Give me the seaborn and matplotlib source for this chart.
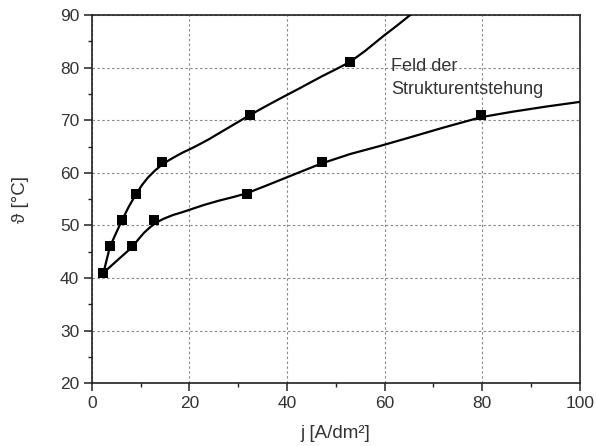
import matplotlib
matplotlib.use("Agg")
import matplotlib.pyplot as plt
import seaborn as sns
from matplotlib.ticker import MultipleLocator

# measured points
upper_x = [2.4, 3.7, 6.2, 9.1, 14.3, 32.4, 52.9]
upper_y = [41, 46, 51, 56, 62, 71, 81]
lower_x = [2.4, 8.3, 12.8, 31.7, 47.1, 79.8]
lower_y = [41, 46, 51, 56, 62, 71]

# smooth curves
upper_curve_x = [2.4, 3.7, 5.0, 6.2, 7.6, 9.1, 10.3, 11.5, 12.9, 14.3, 15.8, 17.3, 18.7, 20.1,
                 22.0, 24.0, 26.0, 28.0, 30.2, 32.4, 35.5, 38.5, 42.6, 47.0, 50.0,
                 52.9, 56.0, 59.7, 62.5, 65.2]
upper_curve_y = [41.0, 45.9, 48.6, 51.0, 53.6, 56.0, 57.7, 59.1, 60.4, 61.5, 62.4, 63.2, 63.9, 64.5,
                 65.4, 66.4, 67.5, 68.6, 69.8, 71.0, 72.6, 74.1, 76.1, 78.3, 79.7,
                 81.1, 83.2, 86.0, 88.0, 90.0]
lower_curve_x = [2.4, 5.4, 8.3, 9.5, 10.7, 12.0, 13.3, 14.8, 16.7, 18.5, 20.1, 23.0, 26.0,
                 29.0, 31.7, 35.0, 38.5, 42.5, 47.1, 53.0, 59.0, 65.0, 72.0, 79.8, 86.0,
                 93.0, 100.0]
lower_curve_y = [41.0, 43.5, 45.9, 47.3, 48.6, 49.7, 50.6, 51.3, 52.0, 52.5, 53.0, 53.9, 54.7,
                 55.4, 56.1, 57.3, 58.6, 60.1, 61.8, 63.6, 65.1, 66.7, 68.6, 70.6, 71.6,
                 72.6, 73.5]

x_label = "j [A/dm²]"
y_label = "ϑ [°C]"
note = "Feld der\nStrukturentstehung"

sns.set_style("ticks")
plt.rcParams["font.family"] = ["Liberation Sans", "DejaVu Sans"]

fig = plt.figure(figsize=(5.96, 4.46), dpi=100)
ax = fig.add_axes([0.154, 0.141, 0.819, 0.825])

sns.lineplot(x=upper_curve_x, y=upper_curve_y, ax=ax, color="black", lw=1.6, sort=False,
             estimator=None, zorder=3)
sns.lineplot(x=lower_curve_x, y=lower_curve_y, ax=ax, color="black", lw=1.6, sort=False,
             estimator=None, zorder=3)
sns.scatterplot(x=upper_x, y=upper_y, ax=ax, marker="s", s=62, color="black",
                edgecolor="black", linewidth=0, zorder=4)
sns.scatterplot(x=lower_x, y=lower_y, ax=ax, marker="s", s=62, color="black",
                edgecolor="black", linewidth=0, zorder=4)

ax.set_xlim(0, 100)
ax.set_ylim(20, 90)
ax.xaxis.set_major_locator(MultipleLocator(20))
ax.xaxis.set_minor_locator(MultipleLocator(10))
ax.yaxis.set_major_locator(MultipleLocator(10))
ax.yaxis.set_minor_locator(MultipleLocator(5))

ax.grid(True, which="major", color="#888888", linestyle=(0, (2.2, 2.2)), linewidth=0.8)
ax.set_axisbelow(True)

for sp in ax.spines.values():
    sp.set_visible(True)
    sp.set_color("#222222")
    sp.set_linewidth(1.2)

ax.tick_params(which="major", direction="out", length=6, width=1.1, color="#222222",
               labelsize=12.5, labelcolor="#333333", pad=3,
               top=False, right=False)
ax.tick_params(which="minor", direction="out", length=3, width=1.0, color="#222222",
               top=False, right=False)

ax.set_xlabel(x_label, fontsize=13.5, color="#333333", labelpad=10)
ax.set_ylabel(y_label, fontsize=13.5, color="#333333", labelpad=22)

ax.text(61.3, 81.8, note, fontsize=13, color="#333333", va="top", ha="left",
        linespacing=1.45, zorder=5)

fig.savefig("out.png", dpi=100)
